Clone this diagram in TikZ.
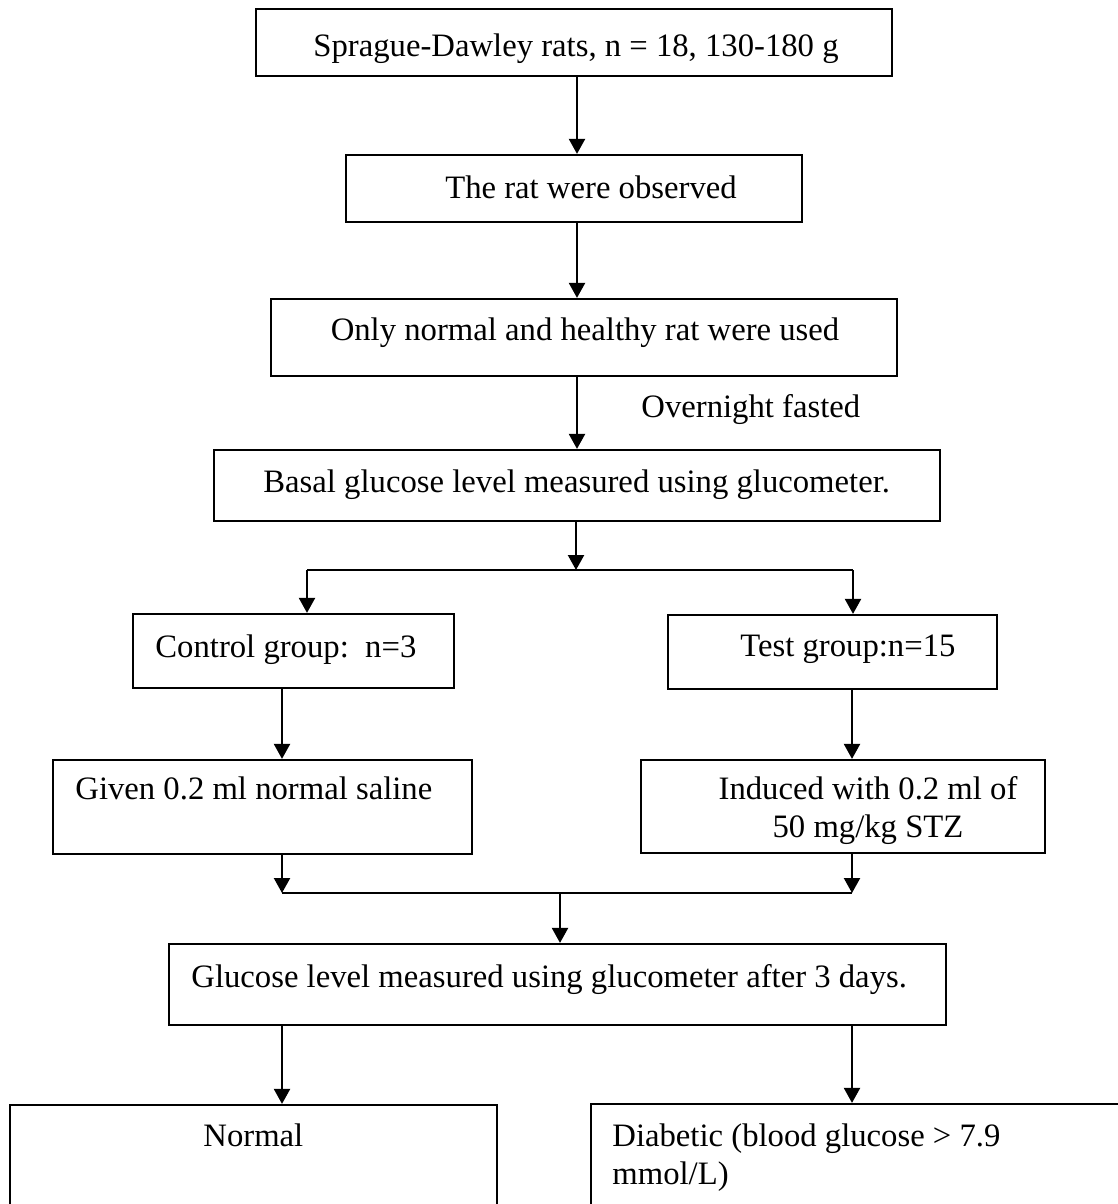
\documentclass[tikz,border=0pt]{standalone}
\usepackage{fontspec}
\setmainfont{Liberation Serif}
\usetikzlibrary{arrows.meta,positioning,fit}
\tikzset{
  flowarr/.style={-{Triangle[length=7.5pt,width=8pt]}, line width=1.1pt},
  flowline/.style={line width=1.1pt},
  flowbox/.style={draw, line width=1.1pt, inner sep=0pt},
  flowtxt/.style={inner sep=0pt, font=\fontsize{16.35}{19}\selectfont},
}

\begin{document}
\begin{tikzpicture}[x=0.5pt, y=-0.5pt]
  \clip (0,0) rectangle (1118,1204);
  % boxes
  \node[flowbox, fit={(256,9) (892,76)}] (rats) {};
  \node[flowbox, fit={(346,155) (802,222)}] (obs) {};
  \node[flowbox, fit={(271,299) (897,376)}] (healthy) {};
  \node[flowbox, fit={(214,450) (940,521)}] (basal) {};
  \node[flowbox, fit={(133,614) (454,688)}] (ctrl) {};
  \node[flowbox, fit={(668,615) (997,689)}] (test) {};
  \node[flowbox, fit={(53,760) (472,854)}] (given) {};
  \node[flowbox, fit={(641,760) (1045,853)}] (induced) {};
  \node[flowbox, fit={(169,944) (946,1025)}] (gluc) {};
  \node[flowbox, fit={(10,1105) (497,1240)}] (normal) {};
  \node[flowbox, fit={(591,1104) (1130,1240)}] (diab) {};
  % texts
  \node[flowtxt, anchor=base] (ratsT) at (576,57) {Sprague-Dawley rats, n = 18, 130-180 g};
  \node[flowtxt, anchor=base] (obsT) at (591,198) {The rat were observed};
  \node[flowtxt, anchor=base] (healthyT) at (585,340) {Only normal and healthy rat were used};
  \node[flowtxt, anchor=base west] (fastT) at (641,417) {Overnight fasted};
  \node[flowtxt, anchor=base west] (basalT) at (263,492) {Basal glucose level measured using glucometer.};
  \node[flowtxt, anchor=base west] (ctrlT) at (155,657) {Control group:\ \ n=3};
  \node[flowtxt, anchor=base west] (testT) at (740,656) {Test group:n=15};
  \node[flowtxt, anchor=base west] (givenT) at (75,799) {Given 0.2 ml normal saline};
  \node[flowtxt, anchor=base] (inducedT) at (868,799) {Induced with 0.2 ml of};
  \node[flowtxt, anchor=base] (inducedU) at (868,837) {50 mg/kg STZ};
  \node[flowtxt, anchor=base west] (glucT) at (191,987) {Glucose level measured using glucometer after 3 days.};
  \node[flowtxt, anchor=base west] (normalT) at (203,1146) {Normal};
  \node[flowtxt, anchor=base west] (diabT) at (612,1146) {Diabetic (blood glucose > 7.9};
  \node[flowtxt, anchor=base west] (diabU) at (612,1184) {mmol/L)};
  % junctions
  \coordinate (col) at (577,0);
  \coordinate (jc) at (576,570);
  \coordinate (jl) at (307,570);
  \coordinate (jr) at (853,570);
  \coordinate (ml) at (282,893);
  \coordinate (mr) at (852,893);
  \coordinate (mc) at (560,893);
  % connectors
  \draw[flowarr] (rats.south -| col) -- (obs.north -| col);
  \draw[flowarr] (obs.south -| col) -- (healthy.north -| col);
  \draw[flowarr] (healthy.south -| col) -- (basal.north -| col);
  \draw[flowarr] (basal.south -| jc) -- (jc);
  \draw[flowline] (jl) -- (jr);
  \draw[flowarr] (jl) -- (ctrl.north -| jl);
  \draw[flowarr] (jr) -- (test.north -| jr);
  \draw[flowarr] (ctrl.south -| ml) -- (given.north -| ml);
  \draw[flowarr] (test.south -| mr) -- (induced.north -| mr);
  \draw[flowarr] (given.south -| ml) -- (ml);
  \draw[flowarr] (induced.south -| mr) -- (mr);
  \draw[flowline] (ml) -- (mr);
  \draw[flowarr] (mc) -- (gluc.north -| mc);
  \draw[flowarr] (gluc.south -| ml) -- (normal.north -| ml);
  \draw[flowarr] (gluc.south -| mr) -- (diab.north -| mr);
\end{tikzpicture}
\end{document}
